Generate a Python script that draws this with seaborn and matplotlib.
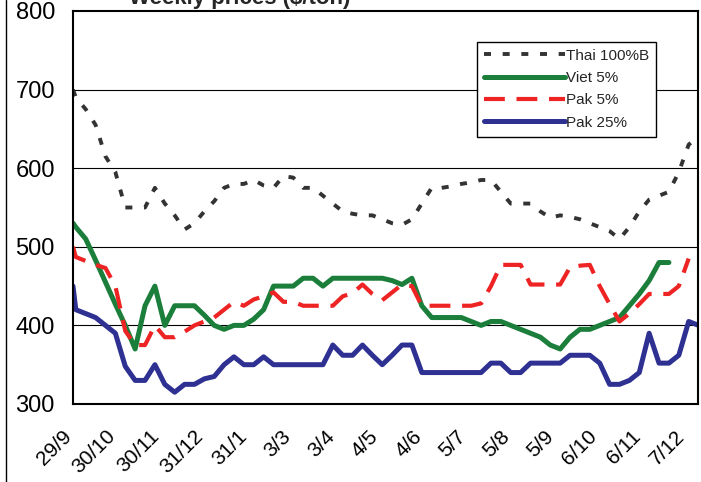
import numpy as np
import pandas as pd
import matplotlib
matplotlib.use("Agg")
import matplotlib.pyplot as plt
from matplotlib.transforms import ScaledTranslation
import seaborn as sns

# weekly quotes, first point is the 29/9 reference
dates = [pd.Timestamp("2008-09-29")] + list(pd.date_range("2008-10-01", periods=64, freq="7D"))

thai_100b = [700, 690, 675, 655, 615, 595, 550, 550, 550, 575, 555, 540, 522, 530, 545, 558,
             575, 580, 580, 585, 578, 575, 590, 588, 575, 575, 565, 555, 545, 542, 540, 540,
             535, 530, 528, 535, 555, 575, 575, 577, 580, 582, 585, 585, 570, 555, 555, 555,
             545, 537, 540, 538, 535, 530, 525, 520, 510, 525, 545, 560, 565, 570, 595, 630, 640]
viet_5 = [530, 525, 510, 483, 455, 427, 400, 370, 425, 450, 400, 425, 425, 425, 413, 400,
          395, 400, 400, 408, 420, 450, 450, 450, 460, 460, 450, 460, 460, 460, 460, 460,
          460, 457, 452, 460, 425, 410, 410, 410, 410, 405, 400, 405, 405, 400, 395, 390,
          385, 375, 370, 385, 395, 395, 400, 405, 410, 425, 440, 457, 480, 480,
          np.nan, np.nan, np.nan]
pak_5 = [500, 487, 482, 477, 473, 450, 393, 375, 375, 400, 385, 385, 392, 400, 405, 410,
         420, 430, 425, 433, 437, 442, 430, 430, 425, 425, 425, 425, 437, 441, 452, 440,
         432, 442, 452, 450, 425, 425, 425, 425, 425, 425, 428, 450, 477, 477, 477, 452,
         452, 452, 452, 474, 476, 477, 450, 427, 405, 415, 427, 440, 440, 440, 450, 485, np.nan]
pak_25 = [450, 420, 415, 410, 400, 390, 348, 330, 330, 350, 325, 315, 325, 325, 332, 335,
          350, 360, 350, 350, 360, 350, 350, 350, 350, 350, 350, 375, 362, 362, 375, 362,
          350, 362, 375, 375, 340, 340, 340, 340, 340, 340, 340, 352, 352, 340, 340, 352,
          352, 352, 352, 362, 362, 362, 352, 325, 325, 330, 340, 390, 352, 352, 362, 405, 400]

tick_dates = pd.to_datetime(["2008-09-29", "2008-10-30", "2008-11-30", "2008-12-31", "2009-01-31",
                             "2009-03-03", "2009-04-03", "2009-05-04", "2009-06-04", "2009-07-05",
                             "2009-08-05", "2009-09-05", "2009-10-06", "2009-11-06", "2009-12-07"])
tick_labels = ["29/9", "30/10", "30/11", "31/12", "31/1", "3/3", "3/4", "4/5", "4/6",
               "5/7", "5/8", "5/9", "6/10", "6/11", "7/12"]

df = pd.DataFrame({"date": dates, "Thai 100%B": thai_100b, "Viet 5%": viet_5,
                   "Pak 5%": pak_5, "Pak 25%": pak_25})

sns.set_style("white")
plt.rcParams["font.family"] = ["Liberation Sans", "DejaVu Sans"]

fig = plt.figure(figsize=(7.01, 4.82), dpi=100)
ax = fig.add_axes([73 / 701, 78 / 482, 625 / 701, 393 / 482])

sns.lineplot(data=df, x="date", y="Thai 100%B", ax=ax, color="#333333", lw=2.8,
             linestyle=(0, (1.8, 3.0)), label="Thai 100%B", estimator=None)
sns.lineplot(data=df, x="date", y="Viet 5%", ax=ax, color="#1B7F3B", lw=3.6,
             label="Viet 5%", estimator=None, solid_capstyle="round")
sns.lineplot(data=df, x="date", y="Pak 5%", ax=ax, color="#EE2424", lw=3.0,
             linestyle=(0, (5, 2.8)), label="Pak 5%", estimator=None)
sns.lineplot(data=df, x="date", y="Pak 25%", ax=ax, color="#2E3192", lw=3.6,
             label="Pak 25%", estimator=None, solid_capstyle="round")

ax.set_xlim(pd.Timestamp("2008-09-29"), pd.Timestamp("2008-09-29") + pd.Timedelta(days=442.6))
ax.set_ylim(300, 800)
ax.set_yticks([300, 400, 500, 600, 700, 800])
ax.set_xticks(tick_dates)
ax.set_xticklabels(tick_labels)
ax.set_xlabel("")
ax.set_ylabel("")

for y in [400, 500, 600, 700]:
    ax.axhline(y, color="black", lw=0.8, zorder=0)

for s in ax.spines.values():
    s.set_color("black")
    s.set_linewidth(1.5)

ax.tick_params(axis="y", direction="out", length=5, width=1.2, pad=8, labelsize=17, colors="black")
ax.tick_params(axis="x", direction="out", length=4, width=1.2, pad=17, labelsize=15, colors="black")
for lab in ax.get_xticklabels():
    lab.set_rotation(45)
    lab.set_rotation_mode("anchor")
    lab.set_ha("right")
    lab.set_va("center")
    lab.set_transform(lab.get_transform() + ScaledTranslation(-0.04, 0, fig.dpi_scale_trans))

leg = ax.legend(loc="upper left", bbox_to_anchor=(0.646, 0.922), borderaxespad=0,
                fontsize=11, frameon=True, fancybox=False, framealpha=1, edgecolor="black",
                handlelength=5.3, handletextpad=0.1, labelspacing=0.55, borderpad=0.45)
leg.get_frame().set_linewidth(1.0)

fig.text(240 / 701, 1 - 4 / 482, "Weekly prices ($/ton)", ha="center", va="baseline",
         fontsize=16, fontweight="bold")
fig.add_artist(plt.Line2D([6 / 701, 6 / 701], [0, 1], color="black", lw=1.0))

fig.savefig("out.png", dpi=100)
